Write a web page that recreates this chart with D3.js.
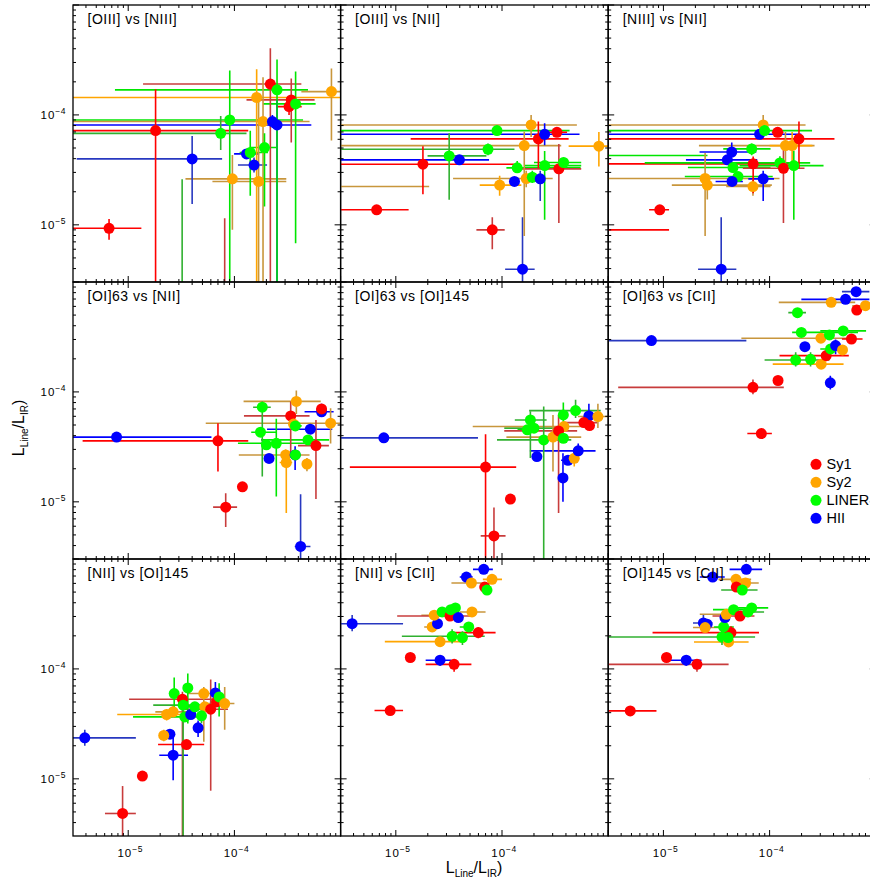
<!DOCTYPE html>
<html><head><meta charset="utf-8">
<script src="https://cdn.jsdelivr.net/npm/d3@7"></script>
<style>
body{margin:0;background:#fff;}
svg{display:block;font-family:"Liberation Sans",Arial,sans-serif;}
</style>
</head><body>
<svg id="c" width="870" height="880"></svg>
<script>
// ---------------- data ----------------
const classes = ["Sy1", "Sy2", "LINER", "HII"];
const dotColors = ["#ff0000", "#ffa500", "#00ff00", "#0000ff"];
const barColors = [["#ff0000", "#c83c3c"], ["#ffa500", "#c8963c"], ["#00e600", "#30b030"], ["#0000ff", "#2838c0"]];
const panelTitles = ["[OIII] vs [NIII]", "[OIII] vs [NII]", "[NIII] vs [NII]",
                     "[OI]63 vs [NII]", "[OI]63 vs [OI]145", "[OI]63 vs [CII]",
                     "[NII] vs [OI]145", "[NII] vs [CII]", "[OI]145 vs [CII]"];
const axisDomain = [3.02e-6, 1e-3];
const labelTicks = [1e-5, 1e-4];
const labelExponents = ["\u22125", "\u22124"];

// rows: [class, x, y, xlo, xhi, ylo, yhi, darkBar]
const pOIII_NIII = [
 [0, 6.6e-6, 9.3e-6, 1e-7, 1.33e-5, 7.3e-6, 1.13e-5, 0],
 [0, 1.81e-5, 7.2e-5, 1e-7, 1.35e-4, 1e-7, 1.71e-4, 0],
 [3, 4.0e-5, 3.98e-5, 3.27e-6, 7.66e-5, 1.55e-5, 6.44e-5, 1],
 [2, 7.43e-5, 6.8e-5, 1e-7, 1.30e-4, 4.8e-5, 9.8e-5, 1],
 [2, 9.04e-5, 9.0e-5, 1e-7, 4.43e-4, 1e-7, 2.53e-4, 0],
 [1, 9.57e-5, 2.62e-5, 3.46e-5, 3.08e-4, 9.0e-6, 4.33e-5, 1],
 [3, 1.30e-4, 4.42e-5, 9.93e-5, 1.71e-4, 4.0e-5, 4.9e-5, 0],
 [2, 1.41e-4, 4.55e-5, 1.12e-4, 2.07e-4, 1.84e-5, 7.16e-5, 0],
 [3, 1.53e-4, 3.5e-5, 1.08e-4, 2.03e-4, 3.0e-5, 4.1e-5, 1],
 [1, 1.62e-4, 1.44e-4, 1e-7, 1.1e-3, 1e-7, 2.6e-4, 0],
 [1, 1.69e-4, 2.48e-5, 6.21e-5, 3.08e-4, 1e-7, 1.47e-4, 1],
 [1, 1.86e-4, 8.7e-5, 1e-7, 5.1e-4, 1e-7, 2.2e-4, 1],
 [2, 1.92e-4, 5.05e-5, 1.39e-4, 2.48e-4, 1.47e-5, 6.8e-5, 0],
 [0, 2.18e-4, 1.91e-4, 1.38e-5, 4.27e-4, 1e-7, 4.04e-4, 1],
 [3, 2.28e-4, 8.7e-5, 2.0e-4, 2.6e-4, 7.6e-5, 1.0e-4, 0],
 [3, 2.52e-4, 8.1e-5, 1e-7, 5.3e-4, 1e-7, 1.37e-4, 0],
 [2, 2.52e-4, 1.69e-4, 7.5e-6, 4.93e-4, 1e-7, 3.2e-4, 0],
 [0, 3.43e-4, 1.37e-4, 1.3e-4, 5.69e-4, 5.6e-5, 2.14e-4, 1],
 [0, 3.27e-4, 1.19e-4, 2.5e-4, 4.3e-4, 1.0e-4, 1.4e-4, 0],
 [2, 3.77e-4, 1.26e-4, 1.86e-4, 5.82e-4, 6.8e-6, 2.48e-4, 0],
 [1, 8.2e-4, 1.63e-4, 4.27e-4, 2e-3, 5.85e-5, 2.65e-4, 1],
 [2, 3.22e-5, 1e-6, null, null, 1e-7, 2.6e-5, 1],
 [0, 8.1e-5, 1e-6, null, null, 1e-7, 1.15e-5, 1]
];
const pOIII_NII = [
 [0, 6.6e-6, 1.37e-5, 1e-7, 1.32e-5, 1.25e-5, 1.5e-5, 0],
 [0, 1.80e-5, 3.56e-5, 1e-7, 1.31e-4, 1.9e-5, 5.2e-5, 0],
 [2, 3.18e-5, 4.24e-5, 1.99e-5, 7.13e-5, 1.69e-5, 6.8e-5, 1],
 [3, 3.97e-5, 3.9e-5, 1e-7, 7.55e-5, 3.6e-5, 4.2e-5, 0],
 [2, 7.38e-5, 4.87e-5, 1e-7, 1.31e-4, 4.3e-5, 5.5e-5, 1],
 [2, 8.97e-5, 7.2e-5, 1e-7, 4.33e-4, 6.5e-5, 8.0e-5, 0],
 [1, 9.5e-5, 2.3e-5, 6.17e-5, 1.52e-4, 1.84e-5, 2.8e-5, 0],
 [3, 1.31e-4, 2.48e-5, 1.18e-4, 1.45e-4, 2.3e-5, 2.7e-5, 0],
 [2, 1.39e-4, 3.3e-5, 1.1e-4, 5.5e-4, 3.0e-5, 3.8e-5, 0],
 [3, 1.56e-4, 3.95e-6, 1.07e-4, 2.03e-4, 1e-7, 1.17e-5, 1],
 [1, 1.62e-4, 5.26e-5, 1e-7, 3.61e-4, 7.9e-6, 7.05e-5, 1],
 [1, 1.69e-4, 2.64e-5, 3.46e-5, 3.0e-4, 2.2e-5, 3.1e-5, 1],
 [1, 1.88e-4, 8.1e-5, 1e-7, 5.07e-4, 6.3e-5, 1.0e-4, 1],
 [2, 1.93e-4, 2.71e-5, 1.7e-4, 2.2e-4, 2.4e-5, 3.1e-5, 0],
 [0, 2.2e-4, 6.05e-5, 1.38e-5, 4.24e-4, 3.27e-5, 8.7e-5, 0],
 [3, 2.29e-4, 2.62e-5, 2.1e-4, 2.5e-4, 1.65e-5, 3.1e-5, 1],
 [3, 2.52e-4, 6.67e-5, 1e-7, 5.37e-4, 5.3e-5, 8.4e-5, 0],
 [2, 2.52e-4, 3.46e-5, 1.63e-4, 5.57e-4, 1.11e-5, 4.7e-5, 0],
 [0, 3.29e-4, 6.95e-5, 2.7e-4, 4.1e-4, 6.5e-5, 7.4e-5, 0],
 [0, 3.43e-4, 3.23e-5, 1.31e-4, 5.57e-4, 1.04e-5, 5.45e-5, 1],
 [2, 3.8e-4, 3.69e-5, 2.0e-4, 5.57e-4, 3.3e-5, 4.1e-5, 0],
 [1, 8.17e-4, 5.2e-5, 4.24e-4, 2e-3, 3.4e-5, 7.0e-5, 0],
 [0, 8.1e-5, 9.0e-6, 5.74e-5, 1.06e-4, 6.0e-6, 1.17e-5, 1],
 [1, 1e-6, 2.23e-5, 1e-7, 2.06e-5, null, null, 1]
];
const pNIII_NII = [
 [0, 9.24e-6, 1.37e-5, 7.33e-6, 1.13e-5, 1.25e-5, 1.5e-5, 0],
 [3, 3.5e-5, 3.95e-6, 2.12e-5, 4.86e-5, 1e-7, 1.17e-5, 1],
 [1, 2.47e-5, 2.64e-5, 1e-7, 1.24e-4, 7.9e-6, 4.5e-5, 1],
 [1, 2.59e-5, 2.3e-5, 1.2e-5, 1.05e-4, 1.7e-5, 2.6e-5, 1],
 [3, 4.0e-5, 3.9e-5, 1.63e-5, 7.65e-5, 3.6e-5, 4.2e-5, 0],
 [3, 4.4e-5, 4.6e-5, 2.19e-5, 7.5e-5, 4.1e-5, 5.6e-5, 0],
 [2, 4.52e-5, 3.32e-5, 1.7e-5, 1.02e-4, 3.0e-5, 3.6e-5, 0],
 [2, 5.04e-5, 2.75e-5, 1.59e-5, 1.07e-4, 2.5e-5, 3.0e-5, 0],
 [3, 4.43e-5, 2.48e-5, 3.1e-5, 5.6e-5, 2.3e-5, 2.7e-5, 0],
 [2, 6.78e-5, 4.91e-5, 3.66e-5, 1.02e-4, 4.3e-5, 5.5e-5, 0],
 [1, 6.97e-5, 2.23e-5, 3.9e-5, 1.02e-4, 1.84e-5, 2.6e-5, 1],
 [0, 7.0e-5, 3.59e-5, 1e-7, 1.86e-4, 1.94e-5, 4.18e-5, 0],
 [3, 8.05e-5, 6.67e-5, 1e-7, 1.99e-4, 6.0e-5, 7.4e-5, 0],
 [1, 8.7e-5, 8.1e-5, 1e-7, 2.18e-4, 6.3e-5, 1.0e-4, 1],
 [2, 8.97e-5, 7.2e-5, 1e-7, 2.51e-4, 6.6e-5, 7.8e-5, 0],
 [3, 8.7e-5, 2.62e-5, 6.3e-5, 1.1e-4, 1.65e-5, 3.1e-5, 0],
 [0, 1.19e-4, 6.95e-5, 1.05e-4, 1.35e-4, 6.5e-5, 7.4e-5, 0],
 [2, 1.25e-4, 3.66e-5, 6.67e-6, 2.41e-4, 3.2e-5, 4.2e-5, 0],
 [0, 1.35e-4, 3.27e-5, 5.6e-5, 2.13e-4, 1.04e-5, 5.15e-5, 1],
 [1, 1.41e-4, 5.26e-5, 2.16e-5, 2.65e-4, 3.4e-5, 7.0e-5, 1],
 [1, 1.63e-4, 5.26e-5, 1.0e-4, 2.53e-4, 3.4e-5, 7.0e-5, 0],
 [2, 1.69e-4, 3.46e-5, 5.22e-5, 3.22e-4, 1.11e-5, 4.7e-5, 0],
 [0, 1.89e-4, 6.05e-5, 1e-7, 4.08e-4, 3.27e-5, 8.7e-5, 0],
 [0, 1e-6, 9.0e-6, 1e-7, 1.13e-5, null, null, 0],
 [2, 1e-6, 4.27e-5, 1e-7, 2.6e-5, null, null, 0]
];
const pOI63_NII = [
 [3, 7.77e-6, 3.88e-5, 1e-7, 6.08e-5, 3.6e-5, 4.2e-5, 0],
 [0, 7.0e-5, 3.59e-5, 3.72e-6, 1.35e-4, 1.89e-5, 5.2e-5, 0],
 [0, 1.19e-4, 1.37e-5, 1.12e-4, 1.27e-4, 1.29e-5, 1.45e-5, 0],
 [0, 8.28e-5, 8.95e-6, 6.3e-5, 1.06e-4, 5.9e-6, 1.2e-5, 1],
 [3, 4.2e-4, 3.93e-6, 3.7e-4, 5.2e-4, 1e-7, 1.17e-5, 1],
 [2, 1.83e-4, 7.26e-5, 1.5e-4, 2.2e-4, 1.7e-5, 8.2e-5, 1],
 [2, 1.76e-4, 4.3e-5, 1.44e-4, 2.5e-4, 3.9e-5, 4.7e-5, 0],
 [2, 2.0e-4, 3.3e-5, 1.8e-4, 2.2e-4, 3.0e-5, 3.6e-5, 0],
 [2, 2.48e-4, 3.41e-5, 1.08e-4, 4.58e-4, 1.12e-5, 5.7e-5, 0],
 [3, 2.12e-4, 2.48e-5, 1.95e-4, 2.3e-4, 2.3e-5, 2.7e-5, 0],
 [1, 3.04e-4, 2.67e-5, 1.1e-4, 5.1e-4, 2.4e-5, 3.0e-5, 1],
 [1, 3.08e-4, 2.28e-5, 2.67e-4, 3.5e-4, 7.9e-6, 2.67e-5, 0],
 [0, 3.39e-4, 6.05e-5, 1.23e-4, 5.1e-4, 2.67e-5, 8.2e-5, 1],
 [1, 3.83e-4, 8.2e-5, 1.22e-4, 6.5e-4, 6.3e-5, 1.03e-4, 1],
 [1, 3.6e-4, 5.1e-5, 3.3e-4, 3.9e-4, 4.7e-5, 5.5e-5, 0],
 [2, 3.75e-4, 4.91e-5, 3.3e-4, 4.3e-4, 4.5e-5, 5.4e-5, 0],
 [3, 3.73e-4, 2.67e-5, 3.4e-4, 4.1e-4, 1.95e-5, 3.2e-5, 0],
 [2, 3.75e-4, 2.67e-5, 3.3e-4, 4.2e-4, 2.4e-5, 3.0e-5, 0],
 [3, 5.19e-4, 4.58e-5, 2.03e-4, 8.35e-4, 4.2e-5, 5.0e-5, 0],
 [2, 4.93e-4, 3.66e-5, 1.78e-4, 7.8e-4, 3.4e-5, 4.0e-5, 0],
 [1, 4.82e-4, 2.21e-5, 4.5e-4, 5.2e-4, 1.9e-5, 2.5e-5, 1],
 [0, 5.86e-4, 3.25e-5, 3.97e-4, 7.76e-4, 1.06e-5, 5.56e-5, 1],
 [3, 6.62e-4, 6.6e-5, 4.58e-4, 8.6e-4, 5.9e-5, 7.8e-5, 0],
 [0, 6.62e-4, 7.0e-5, 5.9e-4, 7.4e-4, 6.4e-5, 7.6e-5, 0],
 [1, 8.05e-4, 5.19e-5, 5.37e-5, 2e-3, 3.4e-5, 7.1e-5, 1]
];
const pOI63_OI145 = [
 [3, 7.71e-6, 3.82e-5, 1e-7, 5.94e-5, 3.6e-5, 4.1e-5, 1],
 [0, 7.0e-5, 2.07e-5, 3.69e-6, 1.36e-4, 1e-7, 4.12e-5, 0],
 [0, 1.2e-4, 1.06e-5, 1.12e-4, 1.28e-4, 1.0e-5, 1.12e-5, 0],
 [0, 8.4e-5, 4.9e-6, 6.3e-5, 1.08e-4, 1e-7, 8.9e-6, 1],
 [2, 1.85e-4, 5.56e-5, 1.32e-4, 2.63e-4, 2.5e-5, 6.67e-5, 1],
 [2, 2.0e-4, 4.68e-5, 1.05e-4, 3.34e-4, 4.3e-5, 5.1e-5, 1],
 [2, 1.73e-4, 4.52e-5, 1.4e-4, 2.1e-4, 4.2e-5, 4.9e-5, 0],
 [2, 2.47e-4, 3.66e-5, 8.97e-5, 4.49e-4, 1e-7, 7.36e-5, 1],
 [3, 2.13e-4, 2.58e-5, 1.95e-4, 2.3e-4, 2.4e-5, 2.8e-5, 0],
 [1, 3.02e-4, 3.88e-5, 1.1e-4, 5.57e-4, 1.89e-5, 6.18e-5, 1],
 [1, 3.83e-4, 4.84e-5, 5.3e-5, 6.45e-4, 4.4e-5, 5.3e-5, 1],
 [0, 3.41e-4, 4.42e-5, 1.05e-4, 5.1e-4, 7.9e-6, 6.18e-5, 1],
 [2, 3.78e-4, 6.18e-5, 3.4e-4, 4.2e-4, 4.5e-5, 8.0e-5, 0],
 [2, 3.78e-4, 3.79e-5, 3.4e-4, 4.2e-4, 3.5e-5, 4.1e-5, 0],
 [3, 3.75e-4, 1.65e-5, 3.5e-4, 4.0e-4, 1.0e-5, 2.77e-5, 0],
 [3, 4.18e-4, 2.39e-5, 3.6e-4, 4.9e-4, 2.2e-5, 2.6e-5, 0],
 [1, 4.79e-4, 2.49e-5, 4.4e-4, 5.2e-4, 2.1e-5, 2.9e-5, 0],
 [3, 5.22e-4, 2.91e-5, 1.83e-4, 7.6e-4, 2.4e-5, 3.4e-5, 0],
 [2, 4.93e-4, 6.76e-5, 1.8e-4, 8.5e-4, 5.8e-5, 8.5e-5, 1],
 [3, 6.58e-4, 6.05e-5, 6.2e-4, 7.0e-4, 4.7e-5, 7.8e-5, 0],
 [0, 5.9e-4, 5.26e-5, 3.83e-4, 7.9e-4, 4.9e-5, 5.6e-5, 1],
 [0, 6.67e-4, 4.94e-5, 6.2e-4, 7.2e-4, 4.6e-5, 5.3e-5, 0],
 [1, 8.0e-4, 5.97e-5, 5.19e-4, 9.9e-4, 4.7e-5, 7.8e-5, 1]
];
const pOI63_CII = [
 [3, 7.71e-6, 2.93e-4, 1e-7, 6.04e-5, 2.8e-4, 3.1e-4, 1],
 [0, 6.97e-5, 1.1e-4, 3.75e-6, 1.36e-4, 9.5e-5, 1.3e-4, 1],
 [0, 1.2e-4, 1.27e-4, 1.1e-4, 1.3e-4, 1.2e-4, 1.34e-4, 0],
 [0, 8.36e-5, 4.18e-5, 6.17e-5, 1.05e-4, 3.75e-5, 4.6e-5, 0],
 [3, 3.73e-4, 1.21e-4, 3.6e-4, 3.9e-4, 1.05e-4, 1.4e-4, 0],
 [2, 1.76e-4, 1.95e-4, 8.97e-5, 3.66e-4, 1.7e-4, 2.3e-4, 1],
 [2, 2.43e-4, 1.98e-4, 2.2e-4, 2.7e-4, 1.7e-4, 2.3e-4, 1],
 [1, 3.06e-4, 1.79e-4, 1.07e-4, 4.97e-4, 1.7e-4, 1.9e-4, 0],
 [0, 3.41e-4, 2.14e-4, 1.24e-4, 5.57e-4, 1.9e-4, 2.4e-4, 0],
 [2, 3.75e-4, 2.46e-4, 3.0e-4, 4.6e-4, 2.3e-4, 2.6e-4, 0],
 [3, 2.15e-4, 2.58e-4, 2.0e-4, 2.3e-4, 2.45e-4, 2.72e-4, 0],
 [3, 4.18e-4, 2.64e-4, 3.9e-4, 4.5e-4, 2.2e-4, 3.0e-4, 0],
 [1, 4.86e-4, 2.41e-4, 4.6e-4, 5.1e-4, 2.3e-4, 2.55e-4, 0],
 [1, 3.04e-4, 3.08e-4, 5.42e-5, 6.4e-4, 2.8e-4, 3.4e-4, 1],
 [2, 1.99e-4, 3.48e-4, 1.63e-4, 6.8e-4, 3.3e-4, 3.6e-4, 0],
 [2, 3.66e-4, 3.3e-4, 3.4e-4, 3.95e-4, 3.1e-4, 3.5e-4, 0],
 [2, 4.93e-4, 3.59e-4, 3.0e-4, 8.1e-4, 3.4e-4, 3.8e-4, 0],
 [0, 5.9e-4, 3.03e-4, 4.8e-4, 7.5e-4, 2.9e-4, 3.15e-4, 0],
 [2, 1.83e-4, 5.26e-4, 1.5e-4, 2.2e-4, 5.0e-4, 5.5e-4, 1],
 [1, 3.8e-4, 6.53e-4, 1.22e-4, 6.4e-4, 6.3e-4, 6.75e-4, 1],
 [3, 5.19e-4, 6.95e-4, 1.99e-4, 8.7e-4, 6.7e-4, 7.2e-4, 0],
 [3, 6.53e-4, 8.17e-4, 4.8e-4, 8.7e-4, 7.9e-4, 8.45e-4, 1],
 [0, 6.62e-4, 5.56e-4, 6.3e-4, 7.0e-4, 5.4e-4, 5.75e-4, 0],
 [1, 8.0e-4, 6.09e-4, 6.0e-4, 1.1e-3, 5.9e-4, 6.3e-4, 1]
];
const pNII_OI145 = [
 [3, 3.9e-6, 2.36e-5, 1e-7, 1.18e-5, 2.0e-5, 2.8e-5, 1],
 [0, 8.85e-6, 4.84e-6, 6.04e-6, 1.18e-5, 1e-7, 8.6e-6, 1],
 [0, 1.36e-5, 1.06e-5, 1.28e-5, 1.44e-5, 1.0e-5, 1.12e-5, 0],
 [3, 2.65e-5, 1.64e-5, 1.96e-5, 3.66e-5, 9.7e-6, 2.67e-5, 0],
 [3, 2.47e-5, 2.55e-5, 2.3e-5, 2.65e-5, 2.3e-5, 2.8e-5, 0],
 [1, 2.16e-5, 2.48e-5, 1.95e-5, 2.4e-5, 2.2e-5, 2.8e-5, 1],
 [0, 3.54e-5, 2.05e-5, 1.91e-5, 5.19e-5, 1.9e-5, 2.2e-5, 0],
 [1, 2.3e-5, 3.85e-5, 7.88e-6, 3.29e-5, 3.4e-5, 4.3e-5, 0],
 [1, 2.65e-5, 4.07e-5, 1.8e-5, 3.9e-5, 3.6e-5, 4.6e-5, 1],
 [2, 2.71e-5, 5.97e-5, 2.6e-5, 2.8e-5, 4.2e-5, 8.35e-5, 0],
 [0, 3.24e-5, 5.3e-5, 1.02e-5, 6.78e-5, 1e-7, 6.2e-5, 1],
 [2, 3.64e-5, 6.72e-5, 3.4e-5, 3.9e-5, 3.19e-5, 9.07e-5, 0],
 [2, 3.29e-5, 4.68e-5, 1.72e-5, 5.07e-5, 1e-7, 5.2e-5, 1],
 [2, 3.41e-5, 3.66e-5, 1.11e-5, 4.72e-5, 3.4e-5, 3.9e-5, 0],
 [3, 3.88e-5, 3.85e-5, 3.6e-5, 4.2e-5, 3.5e-5, 4.2e-5, 0],
 [2, 4.24e-5, 4.52e-5, 3.6e-5, 5.0e-5, 4.1e-5, 5.0e-5, 0],
 [1, 5.15e-5, 5.97e-5, 3.66e-5, 6.3e-5, 2.17e-5, 6.86e-5, 1],
 [1, 5.26e-5, 4.52e-5, 4.6e-5, 6.0e-5, 4.2e-5, 4.9e-5, 0],
 [2, 4.9e-5, 3.74e-5, 4.5e-5, 5.4e-5, 3.2e-5, 4.4e-5, 1],
 [3, 4.55e-5, 2.91e-5, 4.2e-5, 4.9e-5, 2.4e-5, 3.4e-5, 0],
 [0, 5.98e-5, 4.3e-5, 3.29e-5, 8.7e-5, 7.8e-6, 8.0e-5, 1],
 [3, 6.62e-5, 6.05e-5, 6.2e-5, 7.1e-5, 4.6e-5, 7.6e-5, 0],
 [0, 6.78e-5, 5.01e-5, 6.3e-5, 7.3e-5, 4.7e-5, 5.3e-5, 0],
 [2, 7.18e-5, 5.56e-5, 6.7e-5, 7.7e-5, 3.7e-5, 7.4e-5, 0],
 [1, 8.1e-5, 4.84e-5, 5.07e-5, 1.0e-4, 2.8e-5, 6.86e-5, 1]
];
const pNII_CII = [
 [3, 3.88e-6, 2.58e-4, 1e-7, 1.17e-5, 2.2e-4, 3.1e-4, 1],
 [0, 8.85e-6, 4.18e-5, 6.3e-6, 1.17e-5, 3.9e-5, 4.5e-5, 0],
 [0, 1.37e-5, 1.27e-4, 1.3e-5, 1.45e-5, 1.22e-4, 1.32e-4, 0],
 [3, 2.61e-5, 1.2e-4, 1.91e-5, 3.34e-5, 1.07e-4, 1.3e-4, 0],
 [0, 3.54e-5, 1.1e-4, 1.91e-5, 5.15e-5, 9.4e-5, 1.2e-4, 0],
 [1, 2.61e-5, 1.77e-4, 7.88e-6, 4.46e-5, 1.7e-4, 1.85e-4, 0],
 [1, 2.2e-5, 2.41e-4, 1.85e-5, 2.6e-5, 2.3e-4, 2.5e-4, 1],
 [3, 2.47e-5, 2.58e-4, 2.3e-5, 2.6e-5, 2.5e-4, 2.65e-4, 0],
 [1, 2.3e-5, 3.08e-4, 1.74e-5, 3.3e-5, 3.0e-4, 3.15e-4, 1],
 [2, 2.73e-5, 3.3e-4, 2.6e-5, 2.9e-5, 3.0e-4, 3.6e-4, 0],
 [0, 3.24e-5, 3.03e-4, 1.03e-5, 5.34e-5, 2.95e-4, 3.1e-4, 1],
 [2, 3.29e-5, 3.46e-4, 3.1e-5, 3.5e-5, 3.3e-4, 3.6e-4, 0],
 [2, 3.64e-5, 3.59e-4, 3.4e-5, 3.9e-5, 3.4e-4, 3.8e-4, 0],
 [3, 3.88e-5, 2.93e-4, 3.6e-5, 4.1e-5, 2.8e-4, 3.05e-4, 0],
 [1, 5.22e-5, 3.3e-4, 4.0e-5, 7.0e-5, 3.2e-4, 3.4e-4, 1],
 [2, 3.39e-5, 1.98e-4, 1.14e-5, 6.87e-5, 1.7e-4, 2.3e-4, 1],
 [2, 4.24e-5, 1.93e-4, 4.0e-5, 4.5e-5, 1.65e-4, 2.2e-4, 1],
 [2, 4.86e-5, 2.41e-4, 4.0e-5, 5.3e-5, 2.3e-4, 2.5e-4, 0],
 [0, 5.98e-5, 2.14e-4, 3.34e-5, 8.7e-5, 1.9e-4, 2.4e-4, 0],
 [3, 4.62e-5, 6.85e-4, 4.0e-5, 5.3e-5, 6.7e-4, 7.0e-4, 0],
 [3, 6.73e-5, 8.05e-4, 5.33e-5, 8.2e-5, 7.9e-4, 8.2e-4, 0],
 [1, 5.15e-5, 6.05e-4, 3.34e-5, 7.13e-5, 5.9e-4, 6.2e-4, 1],
 [1, 8.05e-5, 6.53e-4, 6.6e-5, 1.0e-4, 6.4e-4, 6.7e-4, 0],
 [0, 6.87e-5, 5.56e-4, 6.5e-5, 7.3e-5, 5.4e-4, 5.75e-4, 0],
 [2, 7.22e-5, 5.22e-4, 6.9e-5, 7.6e-5, 5.05e-4, 5.4e-4, 0]
];
const pOI145_CII = [
 [0, 4.87e-6, 4.15e-5, 1e-7, 8.6e-6, 3.8e-5, 4.5e-5, 0],
 [0, 1.07e-5, 1.27e-4, 9.5e-6, 1.2e-5, 1.22e-4, 1.32e-4, 0],
 [3, 1.64e-5, 1.2e-4, 1.07e-5, 2.28e-5, 1.07e-4, 1.32e-4, 0],
 [0, 2.07e-5, 1.1e-4, 1e-7, 4.11e-5, 9.4e-5, 1.22e-4, 1],
 [3, 2.38e-5, 2.62e-4, 1.9e-5, 2.9e-5, 2.2e-4, 3.1e-4, 1],
 [3, 2.58e-5, 2.55e-4, 2.4e-5, 2.8e-5, 2.45e-4, 2.65e-4, 0],
 [1, 2.47e-5, 2.38e-4, 1.9e-5, 3.7e-5, 2.3e-4, 2.45e-4, 1],
 [2, 3.56e-5, 1.95e-4, 1e-7, 7.3e-5, 1.65e-4, 2.3e-4, 1],
 [1, 4.11e-5, 1.76e-4, 1.94e-5, 6.34e-5, 1.6e-4, 1.95e-4, 0],
 [0, 4.33e-5, 2.14e-4, 7.9e-6, 7.94e-5, 1.9e-4, 2.45e-4, 0],
 [2, 3.69e-5, 2.41e-4, 3.0e-5, 4.6e-5, 2.3e-4, 2.5e-4, 0],
 [2, 4.06e-5, 1.93e-4, 3.9e-5, 4.2e-5, 1.65e-4, 2.2e-4, 1],
 [3, 3.8e-5, 2.93e-4, 3.6e-5, 4.0e-5, 2.85e-4, 3.0e-4, 0],
 [1, 3.91e-5, 3.14e-4, 2.2e-5, 6.73e-5, 3.05e-4, 3.2e-4, 1],
 [2, 4.58e-5, 3.46e-4, 2.93e-5, 7.5e-5, 3.3e-4, 3.6e-4, 0],
 [0, 5.26e-5, 3.03e-4, 2.9e-5, 7.2e-5, 2.95e-4, 3.1e-4, 1],
 [2, 6.25e-5, 3.3e-4, 4.15e-5, 8.87e-5, 3.2e-4, 3.4e-4, 1],
 [2, 6.78e-5, 3.59e-4, 4.62e-5, 9.7e-5, 3.4e-4, 3.8e-4, 0],
 [3, 2.91e-5, 6.85e-4, 2.2e-5, 3.78e-5, 6.7e-4, 7.0e-4, 0],
 [3, 6.04e-5, 8.05e-4, 4.2e-5, 8.5e-5, 7.9e-4, 8.2e-4, 0],
 [1, 4.82e-5, 6.53e-4, 3.3e-5, 6.7e-5, 6.4e-4, 6.7e-4, 1],
 [1, 5.94e-5, 6.05e-4, 4.8e-5, 7.9e-5, 5.9e-4, 6.2e-4, 1],
 [0, 4.86e-5, 5.56e-4, 4.6e-5, 5.1e-5, 5.4e-4, 5.75e-4, 0],
 [2, 5.53e-5, 5.22e-4, 3.5e-5, 7.7e-5, 5.05e-4, 5.4e-4, 1]
];
const panelData = [pOIII_NIII, pOIII_NII, pNIII_NII, pOI63_NII, pOI63_OI145, pOI63_CII,
                   pNII_OI145, pNII_CII, pOI145_CII];

// ---------------- layout ----------------
const svg = d3.select("#c");
const colX = [73, 340.6, 608.2], panelW = 267.6;
const rowY = [5, 282, 559], panelH = 277;
const tickScale = d3.scaleLog().domain(axisDomain);
const allTicks = tickScale.ticks().filter(v => v >= axisDomain[0] && v <= axisDomain[1]);
const isMajor = v => Math.abs(Math.log10(v) - Math.round(Math.log10(v))) < 1e-6;

panelData.forEach((data, i) => {
  const col = i % 3, row = Math.floor(i / 3);
  const x0 = colX[col], y0 = rowY[row];
  const x = d3.scaleLog().domain(axisDomain).range([x0, x0 + panelW]);
  const y = d3.scaleLog().domain(axisDomain).range([y0 + panelH, y0]);
  const g = svg.append("g");
  const cid = "clip" + i;
  svg.append("clipPath").attr("id", cid).append("rect")
     .attr("x", x0).attr("y", y0).attr("width", panelW).attr("height", panelH);
  const pg = g.append("g").attr("clip-path", `url(#${cid})`);
  const bc = d => barColors[d[0]][d[7]];
  pg.selectAll("line.xe").data(data.filter(d => d[3] != null)).join("line")
    .attr("x1", d => x(d[3])).attr("x2", d => x(d[4]))
    .attr("y1", d => y(d[2])).attr("y2", d => y(d[2]))
    .attr("stroke", bc).attr("stroke-width", 1.6);
  pg.selectAll("line.ye").data(data.filter(d => d[5] != null)).join("line")
    .attr("x1", d => x(d[1])).attr("x2", d => x(d[1]))
    .attr("y1", d => y(d[5])).attr("y2", d => y(d[6]))
    .attr("stroke", bc).attr("stroke-width", 1.6);
  pg.selectAll("circle").data(data).join("circle")
    .attr("cx", d => x(d[1])).attr("cy", d => y(d[2])).attr("r", 5.5)
    .attr("fill", d => dotColors[d[0]]);

  g.append("rect").attr("x", x0).attr("y", y0).attr("width", panelW).attr("height", panelH)
   .attr("fill", "none").attr("stroke", "#000").attr("stroke-width", 1.3);
  const tk = g.append("g").attr("stroke", "#000").attr("stroke-width", 1);
  allTicks.forEach(v => {
    const L = isMajor(v) ? 6 : 3;
    const px = x(v), py = y(v);
    tk.append("line").attr("x1", px).attr("x2", px).attr("y1", y0 + panelH).attr("y2", y0 + panelH - L);
    tk.append("line").attr("x1", px).attr("x2", px).attr("y1", y0).attr("y2", y0 + L);
    tk.append("line").attr("y1", py).attr("y2", py).attr("x1", x0).attr("x2", x0 + L);
    tk.append("line").attr("y1", py).attr("y2", py).attr("x1", x0 + panelW).attr("x2", x0 + panelW - L);
  });
  g.append("text").attr("x", x0 + 14.5).attr("y", y0 + 18.5)
   .attr("font-size", 14).attr("letter-spacing", 0.5).attr("fill", "#000").text(panelTitles[i]);

  if (col === 0) {
    labelTicks.forEach((v, k) => {
      const t = g.append("text").attr("x", x0 - 7).attr("y", y(v) + 4)
        .attr("text-anchor", "end").attr("fill", "#000").attr("font-size", 11.5);
      t.append("tspan").attr("letter-spacing", 1).text("10");
      t.append("tspan").attr("font-size", 8.5).attr("dy", -5).attr("letter-spacing", 0.5).text(labelExponents[k]);
    });
  }
  if (row === 2) {
    labelTicks.forEach((v, k) => {
      const t = g.append("text").attr("x", x(v) + 2).attr("y", y0 + panelH + 21)
        .attr("text-anchor", "middle").attr("fill", "#000").attr("font-size", 11.5);
      t.append("tspan").attr("letter-spacing", 1).text("10");
      t.append("tspan").attr("font-size", 8.5).attr("dy", -5).attr("letter-spacing", 0.5).text(labelExponents[k]);
    });
  }
  if (i === 5) {
    classes.forEach((c, k) => {
      const ly = 464.3 + k * 18;
      g.append("circle").attr("cx", 816).attr("cy", ly).attr("r", 5.5).attr("fill", dotColors[k]);
      g.append("text").attr("x", 826.5).attr("y", ly + 5).attr("font-size", 14.5)
       .attr("fill", "#000").text(c);
    });
  }
});

function axisTitle(sel) {
  sel.append("tspan").text("L");
  sel.append("tspan").attr("font-size", 10).attr("dy", 4).text("Line");
  sel.append("tspan").attr("dy", -4).text("/L");
  sel.append("tspan").attr("font-size", 10).attr("dy", 4).text("IR");
  sel.append("tspan").attr("dy", -4).text(")");
}
svg.append("text").attr("x", 474).attr("y", 873).attr("text-anchor", "middle")
   .attr("font-size", 16).attr("fill", "#000").call(axisTitle);
svg.append("text").attr("transform", "translate(24,428) rotate(-90)").attr("text-anchor", "middle")
   .attr("font-size", 16).attr("fill", "#000").call(axisTitle);
</script>
</body></html>
